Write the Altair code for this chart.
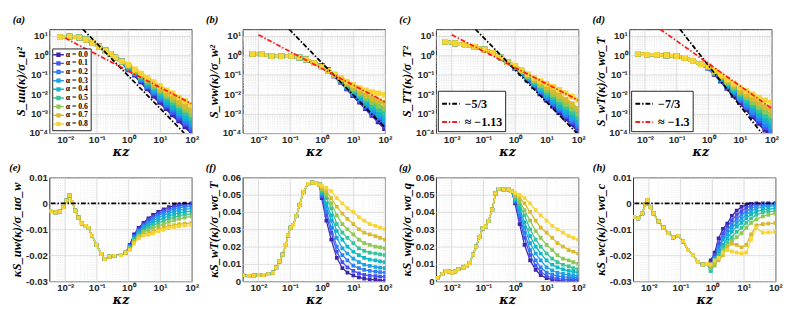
import altair as alt
import pandas as pd

ALPHA_LABELS = ["α = 0.0", "α = 0.1", "α = 0.2", "α = 0.3", "α = 0.4",
                "α = 0.5", "α = 0.6", "α = 0.7", "α = 0.8"]
ALPHA_COLORS = ["#3e26a8", "#4751ef", "#2d7ff6", "#1fa1e1", "#0fb8c5",
                "#38c39a", "#8fc852", "#d9ba2f", "#f8d536"]

# ---------------- top row: spectra (log-log) ----------------
TOP_K_TAIL = [1, 1.6, 2.5, 4, 6.3, 10, 16, 25, 40, 63, 100]

A_K_LOW = [0.0068, 0.0138, 0.028, 0.045, 0.073, 0.117, 0.19, 0.27, 0.385, 0.62]
A_S_LOW = [8.6, 9.3, 8.3, 6.4, 4.4, 2.8, 1.75, 1.2, 0.77, 0.48]
A_TAILS = [
    [0.19, 0.10, 0.046, 0.020, 0.0085, 0.0040, 0.0019, 0.0009, 0.00045, 0.00022, 0.00011],
    [0.20, 0.11, 0.053, 0.024, 0.011, 0.0050, 0.0025, 0.0012, 0.0006, 0.0003, 0.00015],
    [0.21, 0.12, 0.058, 0.027, 0.013, 0.0060, 0.0031, 0.0016, 0.0008, 0.0004, 0.0002],
    [0.23, 0.13, 0.065, 0.031, 0.015, 0.0075, 0.0039, 0.0020, 0.0011, 0.00056, 0.0003],
    [0.25, 0.14, 0.072, 0.036, 0.018, 0.0093, 0.0049, 0.0026, 0.0014, 0.00076, 0.00042],
    [0.27, 0.15, 0.080, 0.042, 0.022, 0.012, 0.0066, 0.0037, 0.0020, 0.0011, 0.0006],
    [0.29, 0.16, 0.090, 0.050, 0.027, 0.015, 0.0085, 0.0050, 0.0028, 0.0016, 0.0009],
    [0.31, 0.17, 0.100, 0.058, 0.033, 0.019, 0.011, 0.0068, 0.0040, 0.0024, 0.0014],
    [0.33, 0.19, 0.115, 0.070, 0.042, 0.026, 0.016, 0.011, 0.0068, 0.0044, 0.0028],
]
A_BLACK_K, A_BLACK_S = [0.0362, 58], [22, 1.0e-4]
A_RED_K, A_RED_S = [0.01, 100], [7.7, 0.0032]

B_K_LOW = [0.0065, 0.0126, 0.026, 0.053, 0.109, 0.197, 0.318, 0.58]
B_S_LOW = [1.2, 1.15, 0.93, 0.90, 0.93, 0.77, 0.61, 0.39]
B_TAILS = [
    [0.28, 0.17, 0.092, 0.044, 0.020, 0.0090, 0.0041, 0.0019, 0.00085, 0.0004, 0.00018],
    [0.28, 0.17, 0.093, 0.046, 0.021, 0.0098, 0.0046, 0.0022, 0.0010, 0.0005, 0.00025],
    [0.27, 0.165, 0.094, 0.048, 0.023, 0.011, 0.0052, 0.0026, 0.0013, 0.00065, 0.00034],
    [0.27, 0.165, 0.095, 0.050, 0.025, 0.012, 0.0060, 0.0031, 0.0016, 0.00085, 0.00048],
    [0.26, 0.16, 0.096, 0.052, 0.027, 0.014, 0.0072, 0.0039, 0.0021, 0.0012, 0.0007],
    [0.26, 0.16, 0.098, 0.055, 0.030, 0.016, 0.0088, 0.0050, 0.0028, 0.0017, 0.0011],
    [0.25, 0.16, 0.100, 0.058, 0.033, 0.019, 0.011, 0.0065, 0.0040, 0.0026, 0.0018],
    [0.25, 0.16, 0.103, 0.063, 0.038, 0.023, 0.014, 0.0088, 0.0060, 0.0045, 0.0036],
    [0.25, 0.16, 0.105, 0.068, 0.045, 0.030, 0.021, 0.016, 0.013, 0.011, 0.0093],
]
B_BLACK_K, B_BLACK_S = [0.093, 100], [22, 1.95e-4]
B_RED_K, B_RED_S = [0.01, 100], [11.4, 0.004]

C_K_LOW = [0.0062, 0.0127, 0.026, 0.053, 0.109, 0.197, 0.36, 0.58]
C_S_LOW = [5.0, 4.1, 3.4, 2.75, 1.96, 1.3, 0.77, 0.44]
C_TAILS = [
    [0.23, 0.12, 0.055, 0.025, 0.011, 0.0052, 0.0025, 0.0012, 0.0006, 0.0003, 0.00013],
    [0.235, 0.123, 0.058, 0.027, 0.0125, 0.0060, 0.0030, 0.0015, 0.00075, 0.00038, 0.00018],
    [0.24, 0.127, 0.062, 0.030, 0.014, 0.0070, 0.0036, 0.0018, 0.0009, 0.00047, 0.00024],
    [0.25, 0.132, 0.067, 0.034, 0.017, 0.0085, 0.0045, 0.0023, 0.0012, 0.0006, 0.00032],
    [0.26, 0.138, 0.073, 0.038, 0.020, 0.0105, 0.0056, 0.0030, 0.0016, 0.00082, 0.00044],
    [0.27, 0.145, 0.080, 0.044, 0.024, 0.013, 0.0073, 0.0040, 0.0022, 0.0012, 0.00065],
    [0.28, 0.155, 0.088, 0.050, 0.029, 0.017, 0.0098, 0.0056, 0.0032, 0.0018, 0.0010],
    [0.29, 0.165, 0.097, 0.058, 0.036, 0.023, 0.014, 0.0087, 0.0052, 0.0030, 0.0017],
    [0.30, 0.18, 0.110, 0.070, 0.048, 0.034, 0.024, 0.017, 0.011, 0.0075, 0.0050],
]
C_BLACK_K, C_BLACK_S = [0.056, 89.8], [22, 1.0e-4]
C_RED_K, C_RED_S = [0.01, 100], [11.4, 0.0049]
C_REF_LABELS = ["−5/3", "≈ −1.13"]

D_K_LOW = [0.0059, 0.0116, 0.0237, 0.048, 0.099, 0.18, 0.326, 0.59]
D_S_LOW = [1.2, 1.08, 1.08, 1.0, 0.93, 0.74, 0.51, 0.35]
D_TAILS = [
    [0.23, 0.11, 0.050, 0.021, 0.0090, 0.0039, 0.0017, 0.00075, 0.00033, 0.00015, 0.00007],
    [0.235, 0.115, 0.054, 0.024, 0.0105, 0.0047, 0.0021, 0.00095, 0.00043, 0.0002, 0.00009],
    [0.24, 0.12, 0.058, 0.027, 0.012, 0.0056, 0.0026, 0.0012, 0.00058, 0.00027, 0.00012],
    [0.24, 0.125, 0.062, 0.030, 0.014, 0.0068, 0.0033, 0.0016, 0.0008, 0.0004, 0.0002],
    [0.25, 0.13, 0.067, 0.033, 0.016, 0.0083, 0.0042, 0.0022, 0.0011, 0.0006, 0.00032],
    [0.25, 0.135, 0.072, 0.037, 0.019, 0.010, 0.0053, 0.0028, 0.0015, 0.00082, 0.00047],
    [0.26, 0.14, 0.078, 0.042, 0.023, 0.0125, 0.0070, 0.0039, 0.0022, 0.0013, 0.0008],
    [0.27, 0.15, 0.085, 0.048, 0.028, 0.016, 0.0095, 0.0057, 0.0035, 0.0022, 0.0014],
    [0.28, 0.16, 0.095, 0.058, 0.036, 0.022, 0.0145, 0.0098, 0.0067, 0.0048, 0.0036],
]
D_BLACK_K, D_BLACK_S = [0.127, 48.3], [22, 1.0e-4]
D_RED_K, D_RED_S = [0.030, 100], [22, 0.0019]
D_REF_LABELS = ["−7/3", "≈ −1.3"]

# ---------------- bottom row: premultiplied co-spectra ----------------
E_K_LOW = [0.0036, 0.0050, 0.0069, 0.0088, 0.011, 0.0137, 0.0166, 0.0209, 0.0265, 0.0336,
           0.0448, 0.055, 0.070, 0.098, 0.139, 0.177, 0.25, 0.36, 0.58, 0.82]
E_V_LOW = [-0.0030, -0.0035, -0.0032, -0.0015, 0.0010, 0.0030, 0.0005, -0.0028, -0.0055, -0.0077,
           -0.0087, -0.0095, -0.0125, -0.0160, -0.0195, -0.0215, -0.0205, -0.0202, -0.0200, -0.0190]
E_K_TAIL = [1.1, 1.5, 2.1, 3, 4.3, 6, 8.8, 13, 19, 28, 40, 60, 100]
E_TAILS = [
    [-0.0160, -0.0120, -0.0095, -0.0075, -0.0058, -0.0045, -0.0033, -0.0023, -0.0015, -0.0009, -0.0004, -0.0001, 0.0],
    [-0.0163, -0.0125, -0.0100, -0.0081, -0.0065, -0.0052, -0.0040, -0.0030, -0.0022, -0.0015, -0.0010, -0.0007, -0.0005],
    [-0.0166, -0.0130, -0.0105, -0.0087, -0.0072, -0.0059, -0.0047, -0.0037, -0.0029, -0.0022, -0.0017, -0.0014, -0.0012],
    [-0.0168, -0.0133, -0.0110, -0.0093, -0.0079, -0.0067, -0.0056, -0.0046, -0.0038, -0.0031, -0.0026, -0.0023, -0.0020],
    [-0.0170, -0.0137, -0.0115, -0.0099, -0.0087, -0.0076, -0.0066, -0.0057, -0.0049, -0.0042, -0.0037, -0.0033, -0.0030],
    [-0.0172, -0.0140, -0.0120, -0.0105, -0.0095, -0.0085, -0.0076, -0.0068, -0.0060, -0.0054, -0.0048, -0.0044, -0.0040],
    [-0.0175, -0.0145, -0.0125, -0.0110, -0.0103, -0.0095, -0.0088, -0.0080, -0.0072, -0.0066, -0.0060, -0.0055, -0.0050],
    [-0.0180, -0.0150, -0.0130, -0.0120, -0.0115, -0.0108, -0.0100, -0.0093, -0.0088, -0.0084, -0.0080, -0.0078, -0.0075],
    [-0.0180, -0.0155, -0.0135, -0.0125, -0.0122, -0.0115, -0.0107, -0.0102, -0.0096, -0.0092, -0.0089, -0.0086, -0.0083],
]

F_K_LOW = [0.0033, 0.005, 0.0071, 0.0101, 0.0144, 0.0204, 0.0289, 0.0365, 0.046, 0.058, 0.0733,
           0.0863, 0.104, 0.125, 0.158, 0.20, 0.264, 0.374, 0.506, 0.67, 0.845]
F_V_LOW = [0.0035, 0.0030, 0.0032, 0.0035, 0.0037, 0.0040, 0.0050, 0.0078, 0.0115, 0.0153, 0.0210,
           0.0265, 0.0310, 0.0324, 0.0376, 0.0440, 0.0516, 0.0562, 0.0570, 0.0566, 0.0558]
F_K_TAIL = [1.0, 1.4, 2.0, 3.0, 4.5, 6.5, 10, 15, 22, 33, 50, 70, 100]
F_TAILS = [
    [0.048, 0.035, 0.024, 0.0135, 0.0075, 0.0050, 0.0033, 0.0022, 0.0015, 0.0010, 0.0007, 0.0004, 0.0002],
    [0.049, 0.038, 0.028, 0.017, 0.011, 0.008, 0.006, 0.0045, 0.0037, 0.0032, 0.0029, 0.0027, 0.0025],
    [0.050, 0.040, 0.031, 0.020, 0.015, 0.012, 0.009, 0.0075, 0.0065, 0.0060, 0.0055, 0.0052, 0.0050],
    [0.051, 0.043, 0.035, 0.025, 0.019, 0.016, 0.013, 0.011, 0.0095, 0.0088, 0.0082, 0.0078, 0.0075],
    [0.051, 0.045, 0.038, 0.029, 0.024, 0.020, 0.017, 0.015, 0.0135, 0.0125, 0.012, 0.0115, 0.011],
    [0.052, 0.048, 0.042, 0.033, 0.028, 0.025, 0.022, 0.019, 0.0175, 0.0165, 0.016, 0.0155, 0.015],
    [0.053, 0.050, 0.045, 0.038, 0.033, 0.030, 0.027, 0.024, 0.022, 0.021, 0.020, 0.0195, 0.019],
    [0.054, 0.052, 0.048, 0.043, 0.039, 0.036, 0.033, 0.030, 0.028, 0.027, 0.026, 0.025, 0.024],
    [0.055, 0.054, 0.052, 0.048, 0.045, 0.042, 0.040, 0.037, 0.035, 0.033, 0.032, 0.031, 0.030],
]

G_K_LOW = [0.00356, 0.00506, 0.0064, 0.0081, 0.0102, 0.0129, 0.0163, 0.0232, 0.0293, 0.0371, 0.0469,
           0.0593, 0.075, 0.0948, 0.12, 0.145, 0.191, 0.242, 0.306, 0.435, 0.618, 0.78]
G_V_LOW = [0.0019, 0.0041, 0.0060, 0.0056, 0.0050, 0.0056, 0.0069, 0.0078, 0.0088, 0.0106, 0.0153,
           0.0200, 0.0255, 0.0305, 0.0317, 0.0348, 0.0413, 0.0507, 0.0534, 0.0530, 0.0530, 0.0520]
G_K_TAIL = [1.0, 1.4, 2.0, 3.0, 4.5, 6.5, 10, 15, 22, 33, 50, 70, 100]
G_TAILS = [
    [0.045, 0.033, 0.021, 0.012, 0.0065, 0.0035, 0.0018, 0.0009, 0.0004, 0.0001, 0.0, 0.0, 0.0],
    [0.046, 0.036, 0.025, 0.015, 0.009, 0.0055, 0.003, 0.002, 0.0015, 0.0012, 0.001, 0.001, 0.001],
    [0.046, 0.038, 0.028, 0.018, 0.012, 0.008, 0.005, 0.0038, 0.003, 0.0025, 0.0022, 0.002, 0.002],
    [0.047, 0.040, 0.031, 0.022, 0.016, 0.012, 0.008, 0.0063, 0.005, 0.0042, 0.0037, 0.0033, 0.003],
    [0.047, 0.042, 0.034, 0.026, 0.020, 0.016, 0.012, 0.0095, 0.008, 0.0068, 0.006, 0.0055, 0.005],
    [0.048, 0.044, 0.038, 0.030, 0.024, 0.020, 0.016, 0.013, 0.011, 0.0095, 0.0085, 0.0075, 0.007],
    [0.049, 0.046, 0.041, 0.035, 0.029, 0.025, 0.021, 0.018, 0.015, 0.013, 0.012, 0.011, 0.010],
    [0.050, 0.048, 0.045, 0.040, 0.035, 0.031, 0.028, 0.025, 0.022, 0.020, 0.018, 0.017, 0.016],
    [0.051, 0.050, 0.048, 0.045, 0.041, 0.038, 0.035, 0.032, 0.030, 0.028, 0.026, 0.025, 0.024],
]

H_K_LOW = [0.0034, 0.0046, 0.0062, 0.0078, 0.0092, 0.0112, 0.0142, 0.0203, 0.029, 0.0414, 0.059,
           0.0845, 0.121, 0.173, 0.247, 0.353, 0.505, 0.687]
H_V_LOW = [-0.0052, -0.0058, -0.0039, -0.0002, 0.0012, -0.0015, -0.0039, -0.0070, -0.0094, -0.0115,
           -0.0131, -0.0125, -0.0147, -0.0180, -0.0199, -0.0226, -0.0236, -0.0233]
H_K_TAIL = [0.9, 1.2, 1.6, 2.2, 3.0, 4.2, 6, 8.5, 12, 17, 25, 40, 60, 100]
H_TAILS = [
    [-0.022, -0.019, -0.0135, -0.0098, -0.0078, -0.0048, -0.0028, -0.0014, -0.0006, -0.0002, 0.0, 0.0, 0.0, 0.0],
    [-0.023, -0.020, -0.0155, -0.0115, -0.009, -0.0065, -0.0045, -0.003, -0.0018, -0.001, -0.0004, -0.0002, -0.0001, 0.0],
    [-0.024, -0.021, -0.017, -0.013, -0.0105, -0.008, -0.006, -0.0045, -0.003, -0.002, -0.0012, -0.0008, -0.0006, -0.0005],
    [-0.025, -0.021, -0.018, -0.014, -0.012, -0.0095, -0.0075, -0.006, -0.0045, -0.003, -0.002, -0.0015, -0.0012, -0.001],
    [-0.026, -0.022, -0.019, -0.016, -0.0135, -0.011, -0.009, -0.0075, -0.0058, -0.0042, -0.0032, -0.0025, -0.0022, -0.002],
    [-0.026, -0.023, -0.020, -0.017, -0.015, -0.013, -0.011, -0.0095, -0.0075, -0.0058, -0.0045, -0.0035, -0.0032, -0.003],
    [-0.025, -0.024, -0.021, -0.018, -0.016, -0.0145, -0.013, -0.0115, -0.0095, -0.0075, -0.0062, -0.005, -0.0045, -0.004],
    [-0.024, -0.023, -0.022, -0.020, -0.017, -0.0155, -0.016, -0.017, -0.016, -0.012, -0.0085, -0.008, -0.0078, -0.0076],
    [-0.0235, -0.022, -0.021, -0.019, -0.018, -0.0185, -0.019, -0.0193, -0.019, -0.014, -0.0095, -0.0113, -0.0112, -0.011],
]
ZERO_K, ZERO_V = [0.0035, 100], [0.0, 0.0]

X_DOMAIN = [10 ** -2.5, 100]
TOP_Y_DOMAIN = [1e-4, 22]

SERIF = "Liberation Serif"
SANS = "Liberation Sans"


def log_values(lo, hi):
    vals = []
    for e in range(-5, 3):
        for m in range(1, 10):
            v = float(f"{m * 10.0 ** e:.6g}")
            if lo * 0.999 <= v <= hi * 1.001:
                vals.append(v)
    return vals


EXP = "round(log(datum.value)/LN10)"
MAJOR = f"abs(log(datum.value)/LN10 - {EXP}) < 0.01"
SUPS = {-4: "⁻⁴", -3: "⁻³", -2: "⁻²", -1: "⁻¹", 0: "⁰", 1: "¹", 2: "²"}
LOG_LABEL = f"!({MAJOR}) ? '' : " + " : ".join(
    f"{EXP} == {e} ? '10{s}'" for e, s in SUPS.items()) + " : ''"


def log_axis(title, lo, hi):
    return alt.Axis(
        title=title, values=log_values(lo, hi), labelExpr=LOG_LABEL,
        labelOverlap=False, labelFlush=False,
        gridColor={"condition": {"test": MAJOR, "value": "#d4d4d4"}, "value": "#e3e3e3"},
        gridDash={"condition": {"test": MAJOR, "value": []}, "value": [1, 1.5]},
        gridWidth=0.8,
    )


def lin_axis(title, vals):
    return alt.Axis(
        title=title, values=vals, labelOverlap=False, labelFlush=False,
        labelExpr="datum.value == 0 ? '0' : replace(format(datum.value, '.2f'), '−', '-')",
        gridColor="#d4d4d4", gridWidth=0.8,
    )


def series_df(k_low, v_low, k_tail, tails):
    rows = []
    for i, lab in enumerate(ALPHA_LABELS):
        for k, v in zip(k_low + k_tail, v_low + tails[i]):
            rows.append({"k": k, "v": v, "alpha": lab, "ord": i})
    return pd.DataFrame(rows)


def ref_df(lines):
    rows = []
    for name, ks, vs in lines:
        for k, v in zip(ks, vs):
            rows.append({"k": k, "v": v, "ref": name})
    return pd.DataFrame(rows)


ALPHA_LEGEND = alt.Legend(
    title=None, orient="bottom-left", offset=3, padding=2, rowPadding=0,
    fillColor="white", strokeColor="#222222", cornerRadius=0, zindex=2,
    labelFont=SERIF, labelFontWeight="bold", labelFontSize=8, labelColor="black",
    labelOffset=3, symbolType="M-1.5,0H1.5M-0.4,-0.4H0.4V0.4H-0.4Z",
    symbolSize=56, symbolStrokeWidth=1.5,
)


def ref_legend():
    return alt.Legend(
        title=None, orient="bottom-left", offset=2, padding=3, rowPadding=2,
        fillColor="white", strokeColor="#222222", cornerRadius=0, zindex=2,
        labelFont=SERIF, labelFontWeight="bold", labelFontSize=12.5, labelColor="black",
        labelOffset=4, symbolType="stroke", symbolSize=330, symbolStrokeWidth=2,
        symbolDash=[5, 2, 1.5, 2],
    )


def panel(tag, df, refs, ref_labels, xlabel, y_scale, y_axis,
          show_alpha_legend=False, show_ref_legend=False, top=True, w=148, h=108):
    sw = 3.5 if top else 1.3
    ms = 34 if top else 15
    x_enc = alt.X("k:Q", scale=alt.Scale(type="log", domain=X_DOMAIN),
                  axis=log_axis(xlabel, X_DOMAIN[0], X_DOMAIN[1]))
    y_enc = alt.Y("v:Q", scale=y_scale, axis=y_axis)
    a_scale = alt.Scale(domain=ALPHA_LABELS, range=ALPHA_COLORS)
    leg = ALPHA_LEGEND if show_alpha_legend else None
    lines = alt.Chart(df).mark_line(strokeWidth=sw, clip=True).encode(
        x=x_enc, y=y_enc,
        stroke=alt.Stroke("alpha:N", scale=a_scale, legend=leg),
        detail="alpha:N",
    )
    pts = alt.Chart(df).mark_point(shape="square", filled=True, size=ms, opacity=1,
                                   clip=True).encode(
        x=x_enc, y=y_enc,
        fill=alt.Fill("alpha:N", scale=a_scale, legend=leg),
    )
    layers = [lines, pts]
    if refs is not None:
        colors = ["black", "#ff1a1a"] if len(ref_labels) == 2 else ["black"]
        rl = alt.Chart(refs).mark_line(strokeWidth=1.8, strokeDash=[5, 2, 1.5, 2],
                                       clip=True).encode(
            x=x_enc, y=y_enc,
            color=alt.Color("ref:N", scale=alt.Scale(domain=ref_labels, range=colors),
                            legend=ref_legend() if show_ref_legend else None),
        )
        layers.append(rl)
    return alt.layer(*layers).properties(
        width=w, height=h,
        title=alt.TitleParams(tag, anchor="start", dx=-2, offset=0),
    )


top_y = alt.Scale(type="log", domain=TOP_Y_DOMAIN)
KZ = "κz"

pa = panel("(a)", series_df(A_K_LOW, A_S_LOW, TOP_K_TAIL, A_TAILS),
           ref_df([(C_REF_LABELS[0], A_BLACK_K, A_BLACK_S), (C_REF_LABELS[1], A_RED_K, A_RED_S)]),
           C_REF_LABELS, KZ, top_y,
           log_axis("S_uu(κ)/σ_u²", TOP_Y_DOMAIN[0], TOP_Y_DOMAIN[1]),
           show_alpha_legend=True)
pb = panel("(b)", series_df(B_K_LOW, B_S_LOW, TOP_K_TAIL, B_TAILS),
           ref_df([(C_REF_LABELS[0], B_BLACK_K, B_BLACK_S), (C_REF_LABELS[1], B_RED_K, B_RED_S)]),
           C_REF_LABELS, KZ, top_y,
           log_axis("S_ww(κ)/σ_w²", TOP_Y_DOMAIN[0], TOP_Y_DOMAIN[1]))
pc = panel("(c)", series_df(C_K_LOW, C_S_LOW, TOP_K_TAIL, C_TAILS),
           ref_df([(C_REF_LABELS[0], C_BLACK_K, C_BLACK_S), (C_REF_LABELS[1], C_RED_K, C_RED_S)]),
           C_REF_LABELS, KZ, top_y,
           log_axis("S_TT(κ)/σ_T²", TOP_Y_DOMAIN[0], TOP_Y_DOMAIN[1]),
           show_ref_legend=True)
pd_ = panel("(d)", series_df(D_K_LOW, D_S_LOW, TOP_K_TAIL, D_TAILS),
            ref_df([(D_REF_LABELS[0], D_BLACK_K, D_BLACK_S), (D_REF_LABELS[1], D_RED_K, D_RED_S)]),
            D_REF_LABELS, KZ, top_y,
            log_axis("S_wT(κ)/σ_wσ_T", TOP_Y_DOMAIN[0], TOP_Y_DOMAIN[1]),
            show_ref_legend=True)

neg_scale = alt.Scale(domain=[-0.03, 0.01], nice=False)
pos_scale = alt.Scale(domain=[0, 0.06], nice=False)
NEG_VALS = [-0.03, -0.02, -0.01, 0, 0.01]
POS_VALS = [0, 0.01, 0.02, 0.03, 0.04, 0.05, 0.06]
ZERO_LABELS = ["0"]

pe = panel("(e)", series_df(E_K_LOW, E_V_LOW, E_K_TAIL, E_TAILS),
           ref_df([("0", ZERO_K, ZERO_V)]), ZERO_LABELS, KZ, neg_scale,
           lin_axis("κS_uw(κ)/σ_uσ_w", NEG_VALS), top=False)
pf = panel("(f)", series_df(F_K_LOW, F_V_LOW, F_K_TAIL, F_TAILS), None, None, KZ,
           pos_scale, lin_axis("κS_wT(κ)/σ_wσ_T", POS_VALS), top=False)
pg = panel("(g)", series_df(G_K_LOW, G_V_LOW, G_K_TAIL, G_TAILS), None, None, KZ,
           pos_scale, lin_axis("κS_wq(κ)/σ_wσ_q", POS_VALS), top=False)
ph = panel("(h)", series_df(H_K_LOW, H_V_LOW, H_K_TAIL, H_TAILS),
           ref_df([("0", ZERO_K, ZERO_V)]), ZERO_LABELS, KZ, neg_scale,
           lin_axis("κS_wc(κ)/σ_wσ_c", NEG_VALS), top=False)

RES = dict(x="independent", y="independent", color="independent",
           stroke="independent", fill="independent")

row1 = alt.hconcat(pa, pb, pc, pd_, spacing=6).resolve_scale(**RES)
row2 = alt.hconcat(pe, pf, pg, ph, spacing=6).resolve_scale(**RES)

chart = alt.vconcat(row1, row2, spacing=2).resolve_scale(**RES).configure_view(
    stroke="#262626", strokeWidth=1
).configure_axis(
    labelFont=SANS, labelFontWeight="bold", labelFontSize=10, labelColor="#262626",
    titleFont=SERIF, titleFontStyle="italic", titleFontWeight="bold", titleFontSize=13,
    titleColor="black", domain=False, ticks=False, labelPadding=2, titlePadding=2,
).configure_axisX(titleFont="DejaVu Serif", titleFontSize=13, titlePadding=1).configure_title(
    font=SERIF, fontStyle="italic", fontWeight="bold", fontSize=11, color="black",
).properties(padding={"left": 0, "right": 2, "top": 0, "bottom": 0})

chart.save("out.html", embed_options={"renderer": "svg", "actions": False})
